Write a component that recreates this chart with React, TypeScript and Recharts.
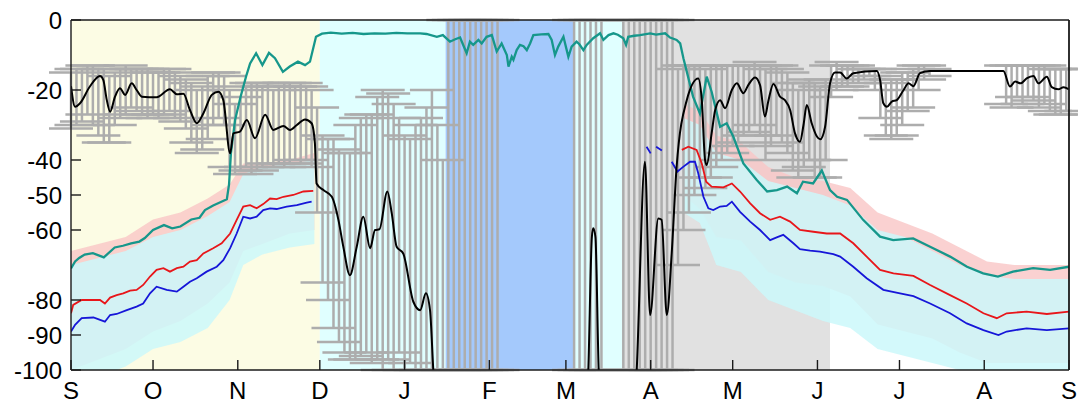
import React from 'react';
import { ComposedChart, Line, Area, XAxis, YAxis, ReferenceArea, ErrorBar } from 'recharts';

const monthTicks = [0, 30, 61, 91, 122, 153, 181, 212, 242, 273, 303, 334, 365];
const monthLabels = ['S', 'O', 'N', 'D', 'J', 'F', 'M', 'A', 'M', 'J', 'J', 'A', 'S'];
const yTicks = [0, -20, -40, -50, -60, -80, -90, -100];

// background periods (day of year from 1 Sep)
const periodStart = [0, 91, 137, 184, 201.5, 277.6];
const periodEnd = [91, 137, 184, 201.5, 277.6, 365];
const periodColor = ['#fcfce4', '#e0ffff', '#a4c9fc', '#e0ffff', '#e1e1e1', '#ffffff'];

// teal series
const tealDays = [0, 1.5, 3, 5, 8, 12, 16, 19, 22, 25, 27, 30, 34, 37, 40, 44, 47, 49, 52, 54, 57, 57.8, 58.5, 60, 62, 64, 65.5, 67.7, 70, 72.4, 74.6, 77.5, 80, 83, 85.6, 87.4, 89.6, 91.8, 95, 99, 103, 107, 111, 115, 119, 123, 127.7, 130, 133.8, 136, 138.6, 140.5, 142.3, 144.7, 145.9, 147.1, 149, 150.2, 152, 153.9, 155.7, 157.5, 159.4, 160, 161.2, 161.8, 163, 164.2, 165.5, 166.7, 167.9, 169.1, 172, 174.6, 175.8, 177, 178.2, 180.1, 181.3, 181.9, 183.1, 184.9, 186, 187.4, 188.6, 191, 193.5, 194.7, 196.6, 198.4, 200, 202, 203, 203.8, 206, 208.1, 211.8, 214, 217.3, 219.1, 221.5, 222.8, 224, 227.5, 230, 232.5, 234.3, 237.4, 239.8, 242.2, 245.9, 250.8, 254.6, 258.2, 261.9, 265.5, 267.7, 271.4, 274.6, 277.6, 280.2, 283.8, 289.7, 295.9, 300.7, 308, 314.2, 321.5, 327.7, 333.6, 339, 344.5, 351.9, 358.1, 365];
const tealVals = [-71, -69, -68, -67, -66.6, -67.8, -65, -64.5, -63.8, -63.3, -62.3, -60, -58.6, -59.5, -59, -57, -56.5, -54.3, -53, -52.3, -51.2, -47, -38, -28.6, -22, -16.2, -12.4, -9.5, -12.9, -9.4, -10.9, -14.8, -13.3, -11.9, -12.9, -11.9, -4.8, -3.9, -3.6, -3.9, -3.7, -4, -3.8, -3.9, -3.7, -3.8, -3.8, -4, -4.8, -4.3, -6.2, -5.5, -5, -9.5, -6.2, -7.1, -5.7, -6.7, -4.8, -4.3, -9, -6.7, -10, -13.3, -10.5, -11.4, -8.6, -7.1, -7.5, -8.6, -6.7, -4.3, -4.1, -4, -5.7, -10, -7.6, -4.8, -8.6, -10.5, -7.6, -6.2, -7, -8.6, -7.1, -5.2, -3.8, -5.7, -4.3, -3.8, -4.2, -5.2, -7.1, -4.8, -4.5, -4.3, -3.8, -4.2, -3.8, -5, -5.7, -6.7, -11, -21.9, -26.7, -16.2, -20.5, -30.5, -29.5, -33.3, -41, -45.7, -49, -48.6, -47.6, -49.5, -46.2, -46.7, -43, -48.6, -50.5, -51.4, -57.1, -61.9, -62.9, -62.4, -64.8, -67.6, -70.5, -72.4, -73.3, -71.9, -70.9, -71.4, -70.5];

// black series (values below -100 are off the chart)
const blackDays = [0, 1.5, 3.3, 6.9, 10.6, 11.8, 13.1, 14.3, 16.1, 17.9, 19.8, 22.2, 24, 25.9, 31.3, 36.2, 38.7, 41.1, 43.5, 46, 48.4, 51.5, 53.9, 55.7, 58.2, 59.4, 61.8, 64.3, 67.3, 71, 74, 77.7, 80.1, 82.6, 85.6, 88, 89.2, 89.8, 92.3, 95.4, 97.8, 99.6, 102, 104.5, 106.9, 109.4, 111.2, 112.8, 115.7, 117.3, 119.1, 121.5, 125.2, 127.7, 129.8, 131.3, 132.5, 134, 188, 189.2, 190.5, 191, 191.8, 193, 195, 205.5, 206.9, 209.9, 211.8, 214.8, 216, 217.9, 219.7, 221.5, 225.2, 229.4, 230.7, 231.9, 232.5, 234.3, 235.6, 237.4, 239.2, 241.7, 243.5, 245.9, 247.7, 250.2, 252, 253.8, 255, 256.9, 259.3, 261.1, 263, 264.8, 266.6, 267.9, 269.1, 270.9, 272.8, 274, 275.8, 277.6, 279.4, 281.3, 283.7, 286.1, 294.7, 295.9, 297.1, 298.4, 300.2, 302, 304.5, 306.3, 308.1, 310.5, 314.2, 341, 343.4, 345.3, 347.3, 349.5, 352, 353.8, 356.9, 358.7, 361.1, 363, 365];
const blackVals = [-18.9, -24.8, -23.8, -19, -16, -17.1, -22.9, -26.2, -21.9, -19.5, -21.4, -18.1, -20, -21.9, -22.1, -19.8, -21.2, -21.1, -25.7, -29.5, -26.7, -21.4, -20.5, -22.9, -38.1, -32.4, -31.9, -28.6, -33.8, -27.1, -31.4, -30.3, -31.4, -30, -28.4, -29.5, -35.2, -46.7, -48.6, -50.5, -57.1, -64.8, -72.9, -64.8, -56.2, -65.2, -60, -59.8, -49, -55.2, -64.8, -66.7, -80.5, -82.9, -78.1, -82.9, -100, -120, -120, -100, -62, -59.5, -62, -100, -120, -120, -100, -40.5, -84.3, -56.7, -57.1, -84.3, -66.6, -41.9, -22.9, -16.7, -22.9, -40, -41.4, -32.4, -25.7, -22.9, -25.2, -20, -18.1, -20.9, -18.6, -16.4, -18.6, -27.6, -23.3, -18.3, -21.9, -22.9, -25.7, -32.4, -34.8, -30, -24.3, -29.5, -33.3, -34.1, -30.5, -18.1, -15, -15, -16.7, -15.2, -14.6, -17.1, -23.8, -24.8, -23.3, -22.9, -20, -18.1, -18.9, -15.2, -14.6, -14.6, -19, -17.6, -18.1, -16.7, -16, -18.1, -16.2, -19.2, -19.8, -19.2, -19.8];

// grey uncertainty bars of the black series
const barDays = [0, 2, 4, 6, 8, 10, 12, 14, 16, 18, 20, 22, 24, 26, 28, 30, 32, 34, 36, 38, 40, 42, 44, 46, 48, 50, 52, 54, 56, 58, 60, 62, 64, 66, 68, 70, 72, 74, 76, 78, 80, 82, 84, 86, 88, 90, 92, 94, 96, 98, 100, 102, 104, 106, 108, 110, 112, 114, 116, 118, 120, 122, 124, 126, 128, 130, 132, 134, 136, 138, 140, 142, 144, 146, 148, 150, 152, 154, 156, 184, 186, 188, 190, 192, 194, 202, 204, 206, 208, 210, 212, 214, 216, 218, 220, 222, 224, 226, 228, 230, 232, 234, 236, 238, 240, 242, 244, 246, 248, 250, 252, 254, 256, 258, 260, 262, 264, 266, 268, 270, 272, 274, 276, 278, 280, 282, 284, 286, 288, 290, 292, 294, 296, 298, 300, 302, 304, 306, 308, 310, 312, 314, 342, 344, 346, 348, 350, 352, 354, 356, 358, 360, 362, 364];
const barHi = [-15, -14, -14, -13, -13, -14, -14, -16, -15, -14, -13, -14, -14, -14, -14, -15, -15, -14, -14, -15, -16, -17, -18, -20, -19, -16, -15, -15, -16, -20, -24, -22, -19, -18, -18, -19, -18, -20, -19, -18, -18, -19, -18, -19, -20, -25, -33, -34, -34, -37, -38, -38, -30, -28, -27, -27, -22, -20, -21, -24, -28, -33, -34, -30, -28, -25, -20, -30, -40, 0, 0, 0, 0, 0, 0, 0, 0, 0, 0, 0, 0, 0, 0, 0, 0, 0, 0, 0, 0, 0, 0, 0, 0, 0, 0, -14, -13, -13, -13, -13, -14, -13, -13, -13, -13, -13, -13, -13, -13, -12, -13, -14, -13, -13, -14, -15, -18, -20, -18, -17, -18, -19, -17, -13, -12, -13, -13, -13, -14, -14, -14, -14, -16, -18, -17, -17, -15, -15, -14, -13, -13, -14, -13, -13, -13, -13, -13, -13, -13, -13, -14, -14, -14, -14];
const barLo = [-31, -30, -29, -27, -30, -33, -35, -35, -30, -28, -27, -25, -26, -27, -28, -27, -28, -27, -26, -28, -29, -31, -35, -38, -37, -34, -30, -28, -30, -42, -44, -43, -42, -44, -43, -42, -41, -42, -41, -42, -41, -40, -41, -40, -42, -55, -75, -80, -88, -92, -95, -97, -97, -96, -95, -98, -97, -100, -97, -100, -95, -100, -98, -100, -100, -100, -100, -100, -100, -100, -100, -100, -100, -100, -100, -100, -100, -100, -100, -100, -100, -100, -100, -100, -100, -100, -100, -100, -100, -100, -100, -100, -100, -100, -100, -70, -60, -55, -50, -45, -48, -45, -42, -40, -38, -36, -35, -33, -32, -30, -33, -40, -36, -33, -35, -38, -43, -45, -42, -40, -45, -45, -40, -22, -20, -19, -19, -18, -18, -17, -16, -20, -28, -33, -34, -33, -30, -26, -25, -20, -17, -16, -24, -25, -22, -24, -22, -23, -25, -24, -26, -27, -27, -26];

// red and blue series (null = no data)
const redDays = [0, 0.8, 3.9, 10.6, 12.4, 14.3, 16.7, 19.1, 21.6, 24, 26.4, 28.9, 31.3, 33.8, 36.2, 38.7, 41.1, 43.5, 46, 48.4, 52, 55.1, 58.2, 60.6, 63, 65.5, 67.9, 70.3, 72.8, 75.2, 77.7, 81.3, 85, 88.6, 150, 223.4, 225.8, 228.8, 230.7, 232.3, 234.3, 238.6, 241.7, 244.7, 248.4, 252, 255.7, 259.3, 263, 266.6, 271.5, 276.4, 281.3, 286.1, 291, 295.9, 300.8, 308.1, 314.2, 321.5, 327.6, 333.7, 338.6, 342.2, 349.5, 356.9, 365];
const redVals = [-83.8, -81.4, -80, -80, -81, -79.3, -78.6, -78.1, -77.3, -77.1, -75.7, -73.3, -71.4, -70.9, -71.9, -70.9, -70.5, -69, -68.6, -66.7, -65.2, -63.8, -61, -57.1, -53.3, -52.9, -53.8, -52.6, -51, -51.2, -50.5, -50, -49, -48.8, null, -37.1, -36.2, -37.1, -41, -46.2, -47.6, -47.8, -46.7, -49, -52.4, -55.2, -57.1, -56.2, -57.6, -60, -60.5, -61, -61, -63.8, -67.6, -71.4, -72.4, -73.1, -75.7, -78.6, -81, -83.8, -85.2, -83.8, -83.3, -84, -83.3];
const blueDays = [0, 1.5, 3.9, 8.2, 12.4, 14.3, 16.7, 20.4, 24, 26.4, 28.9, 31.3, 35, 38.7, 41.1, 43.5, 46, 49.6, 53.3, 55.7, 58.2, 60.6, 63, 65.5, 67.9, 70.3, 72.8, 75.2, 78.9, 82.6, 86.2, 88, 150, 210.5, 212, 213, 214, 216.1, 218, 219.7, 221.8, 224, 226.4, 228.2, 229.4, 231.3, 233.1, 234.9, 237.4, 239.8, 241.7, 244.7, 248.4, 252, 255.7, 258.1, 260.5, 264.2, 266.6, 270.3, 273.9, 278.8, 281.3, 286.1, 291, 297.1, 303.2, 308.1, 314.2, 321.5, 327.6, 333.7, 339.2, 342.2, 349.5, 356.9, 365];
const blueVals = [-89, -87.1, -85.2, -85, -86.2, -84.3, -84, -82.9, -81.9, -81, -78.1, -76.2, -77.1, -77.6, -76.2, -74.8, -73.8, -71.9, -70.5, -68.6, -65.2, -61, -56.2, -56.7, -56.2, -54.3, -53.8, -54, -53.3, -52.9, -52.2, -51.9, null, -36.2, -38.1, null, -36.2, -37.3, null, -40.5, -43.3, -41.9, -40.5, -40.5, -43.8, -50.5, -53.8, -54.3, -53.3, -53.1, -51.9, -54.8, -57.6, -60, -62.9, -62.1, -61.4, -63.8, -65.5, -65.9, -66.2, -66.9, -67.6, -70.5, -73.8, -77.1, -78.1, -78.9, -81, -83.8, -86.7, -88.6, -90, -89, -88.1, -88.6, -88.1];

// uncertainty bands of red (pink) and blue (cyan)
const bandDays = [0, 10, 20, 30, 40, 50, 58, 63, 70, 80, 89, 224, 230, 236, 245, 255, 265, 275, 285, 295, 305, 315, 325, 335, 345, 355, 365];
const redBandHi = [-66, -64, -62, -57, -55, -51, -47, -41, -41, -40, -38, -24, -26, -33, -35, -42, -45, -46, -48, -55, -58, -61, -65, -69, -70, -70, -70];
const redBandLo = [-100, -97, -94, -89, -86, -81, -75, -66, -64, -61, -60, -50, -54, -62, -63, -72, -75, -76, -79, -87, -89, -91, -95, -98, -98, -98, -98];
const blueBandHi = [-70, -68, -66, -62, -60, -56, -52, -44, -42, -41, -40, -28, -30, -38, -40, -46, -48, -50, -53, -60, -62, -66, -70, -73, -74, -74, -74];
const blueBandLo = [-104, -102, -99, -94, -92, -88, -80, -70, -67, -65, -64, -55, -58, -70, -72, -80, -83, -86, -88, -94, -96, -98, -100, -103, -103, -103, -103];

const tealData = tealDays.map((d, i) => ({ day: d, v: tealVals[i] }));
const blackData = blackDays.map((d, i) => ({ day: d, v: blackVals[i] }));
const redData = redDays.map((d, i) => ({ day: d, v: redVals[i] }));
const blueData = blueDays.map((d, i) => ({ day: d, v: blueVals[i] }));
const barData = barDays.map((d, i) => ({
  day: d,
  mid: (barHi[i] + barLo[i]) / 2,
  err: (barHi[i] - barLo[i]) / 2,
}));
const bandRows = bandDays.map((d, i) => ({
  day: d,
  red: [redBandLo[i], redBandHi[i]],
  blue: [blueBandLo[i], blueBandHi[i]],
}));
const bandLeft = bandRows.filter((r) => r.day < 150);
const bandRight = bandRows.filter((r) => r.day > 150);

const font = { fill: '#000', fontSize: 24, fontFamily: 'Liberation Sans, Arial, sans-serif' };
const axisColor = '#1a1a1a';

export default function App() {
  return (
    <div style={{ position: 'absolute', left: 0, top: 0, background: '#fff' }}>
      <ComposedChart width={1078} height={406} margin={{ top: 19, right: 0, bottom: 0, left: 0 }}>
        {periodStart.map((s, i) => (
          <ReferenceArea
            key={'p' + i}
            x1={s}
            x2={periodEnd[i]}
            y1={-100}
            y2={0}
            fill={periodColor[i]}
            fillOpacity={1}
            stroke="none"
          />
        ))}
        <XAxis
          dataKey="day"
          type="number"
          domain={[0, 365]}
          ticks={monthTicks}
          interval={0}
          tickFormatter={(v) => monthLabels[monthTicks.indexOf(v)]}
          allowDataOverflow
          height={36}
          tickSize={-10}
          tickMargin={22}
          stroke={axisColor}
          strokeWidth={1.4}
          tick={font}
        />
        <XAxis
          xAxisId="top"
          orientation="top"
          type="number"
          domain={[0, 365]}
          ticks={monthTicks}
          interval={0}
          allowDataOverflow
          height={1}
          tickSize={-10}
          tick={false}
          stroke={axisColor}
          strokeWidth={1.4}
        />
        <YAxis
          type="number"
          domain={[-100, 0]}
          ticks={yTicks}
          interval={0}
          allowDataOverflow
          width={71}
          tickSize={-10}
          tickMargin={19}
          stroke={axisColor}
          strokeWidth={1.4}
          tick={font}
        />
        <YAxis
          yAxisId="right"
          orientation="right"
          type="number"
          domain={[-100, 0]}
          ticks={yTicks}
          interval={0}
          allowDataOverflow
          width={9}
          tickSize={-10}
          tick={false}
          stroke={axisColor}
          strokeWidth={1.8}
        />
        <Area data={bandLeft} dataKey="red" type="linear" stroke="none" fill="#f9c6c6" fillOpacity={0.8} isAnimationActive={false} />
        <Area data={bandRight} dataKey="red" type="linear" stroke="none" fill="#f9c6c6" fillOpacity={0.8} isAnimationActive={false} />
        <Area data={bandLeft} dataKey="blue" type="linear" stroke="none" fill="#cbf8fa" fillOpacity={0.85} isAnimationActive={false} />
        <Area data={bandRight} dataKey="blue" type="linear" stroke="none" fill="#cbf8fa" fillOpacity={0.85} isAnimationActive={false} />
        <Line data={barData} dataKey="mid" stroke="none" dot={false} activeDot={false} isAnimationActive={false}>
          <ErrorBar dataKey="err" width={22} stroke="#adadad" strokeWidth={2.5} direction="y" />
        </Line>
        <Line data={redData} dataKey="v" type="linear" stroke="#e8161a" strokeWidth={1.8} dot={false} activeDot={false} isAnimationActive={false} />
        <Line data={blueData} dataKey="v" type="linear" stroke="#1616d8" strokeWidth={1.8} dot={false} activeDot={false} isAnimationActive={false} />
        <Line data={tealData} dataKey="v" type="linear" stroke="#16978b" strokeWidth={2.3} dot={false} activeDot={false} isAnimationActive={false} />
        <Line data={blackData} dataKey="v" type="monotone" stroke="#000" strokeWidth={2} dot={false} activeDot={false} isAnimationActive={false} />
      </ComposedChart>
    </div>
  );
}
